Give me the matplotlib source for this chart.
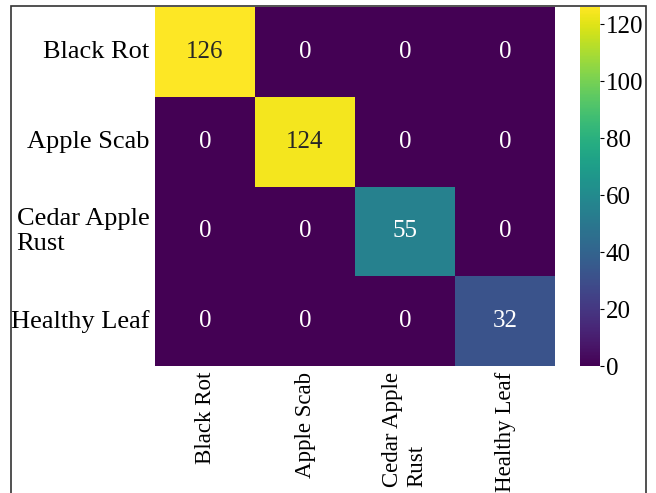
import numpy as np
import matplotlib
matplotlib.use("Agg")
import matplotlib.pyplot as plt
import seaborn as sns
from matplotlib.patches import Rectangle

classes = ["Black Rot", "Apple Scab", "Cedar Apple\nRust", "Healthy Leaf"]
black_rot = [126, 0, 0, 0]
apple_scab = [0, 124, 0, 0]
cedar_apple_rust = [0, 0, 55, 0]
healthy_leaf = [0, 0, 0, 32]

cm = np.array([black_rot, apple_scab, cedar_apple_rust, healthy_leaf])

plt.rcParams['font.family'] = ['Liberation Serif', 'DejaVu Serif']

fig = plt.figure(figsize=(6.56, 4.93), dpi=100)
ax = fig.add_axes([0.2363, 0.2576, 0.6098, 0.7282])
cax = fig.add_axes([0.8841, 0.2576, 0.0305, 0.7282])

sns.heatmap(cm, annot=True, fmt="d", cmap="viridis", ax=ax, cbar_ax=cax,
            xticklabels=classes, yticklabels=classes,
            annot_kws={"fontsize": 18})

ax.tick_params(axis="both", length=0, pad=4)
ax.set_xticklabels(classes, rotation=90, multialignment="left", fontsize=16.5)
ax.set_yticklabels(classes, rotation=0, multialignment="left", fontsize=19)

cax.tick_params(labelsize=18, length=3, width=0.8, pad=1)
cax.set_yticks([0, 20, 40, 60, 80, 100, 120])

# thin frame around the whole figure, open at the bottom
fig.patches.append(Rectangle((11 / 656, -0.05), 635 / 656, 1 - 6 / 493 + 0.05,
                             transform=fig.transFigure, fill=False,
                             edgecolor="#333333", linewidth=1.2))

fig.savefig("out.png", dpi=100)
